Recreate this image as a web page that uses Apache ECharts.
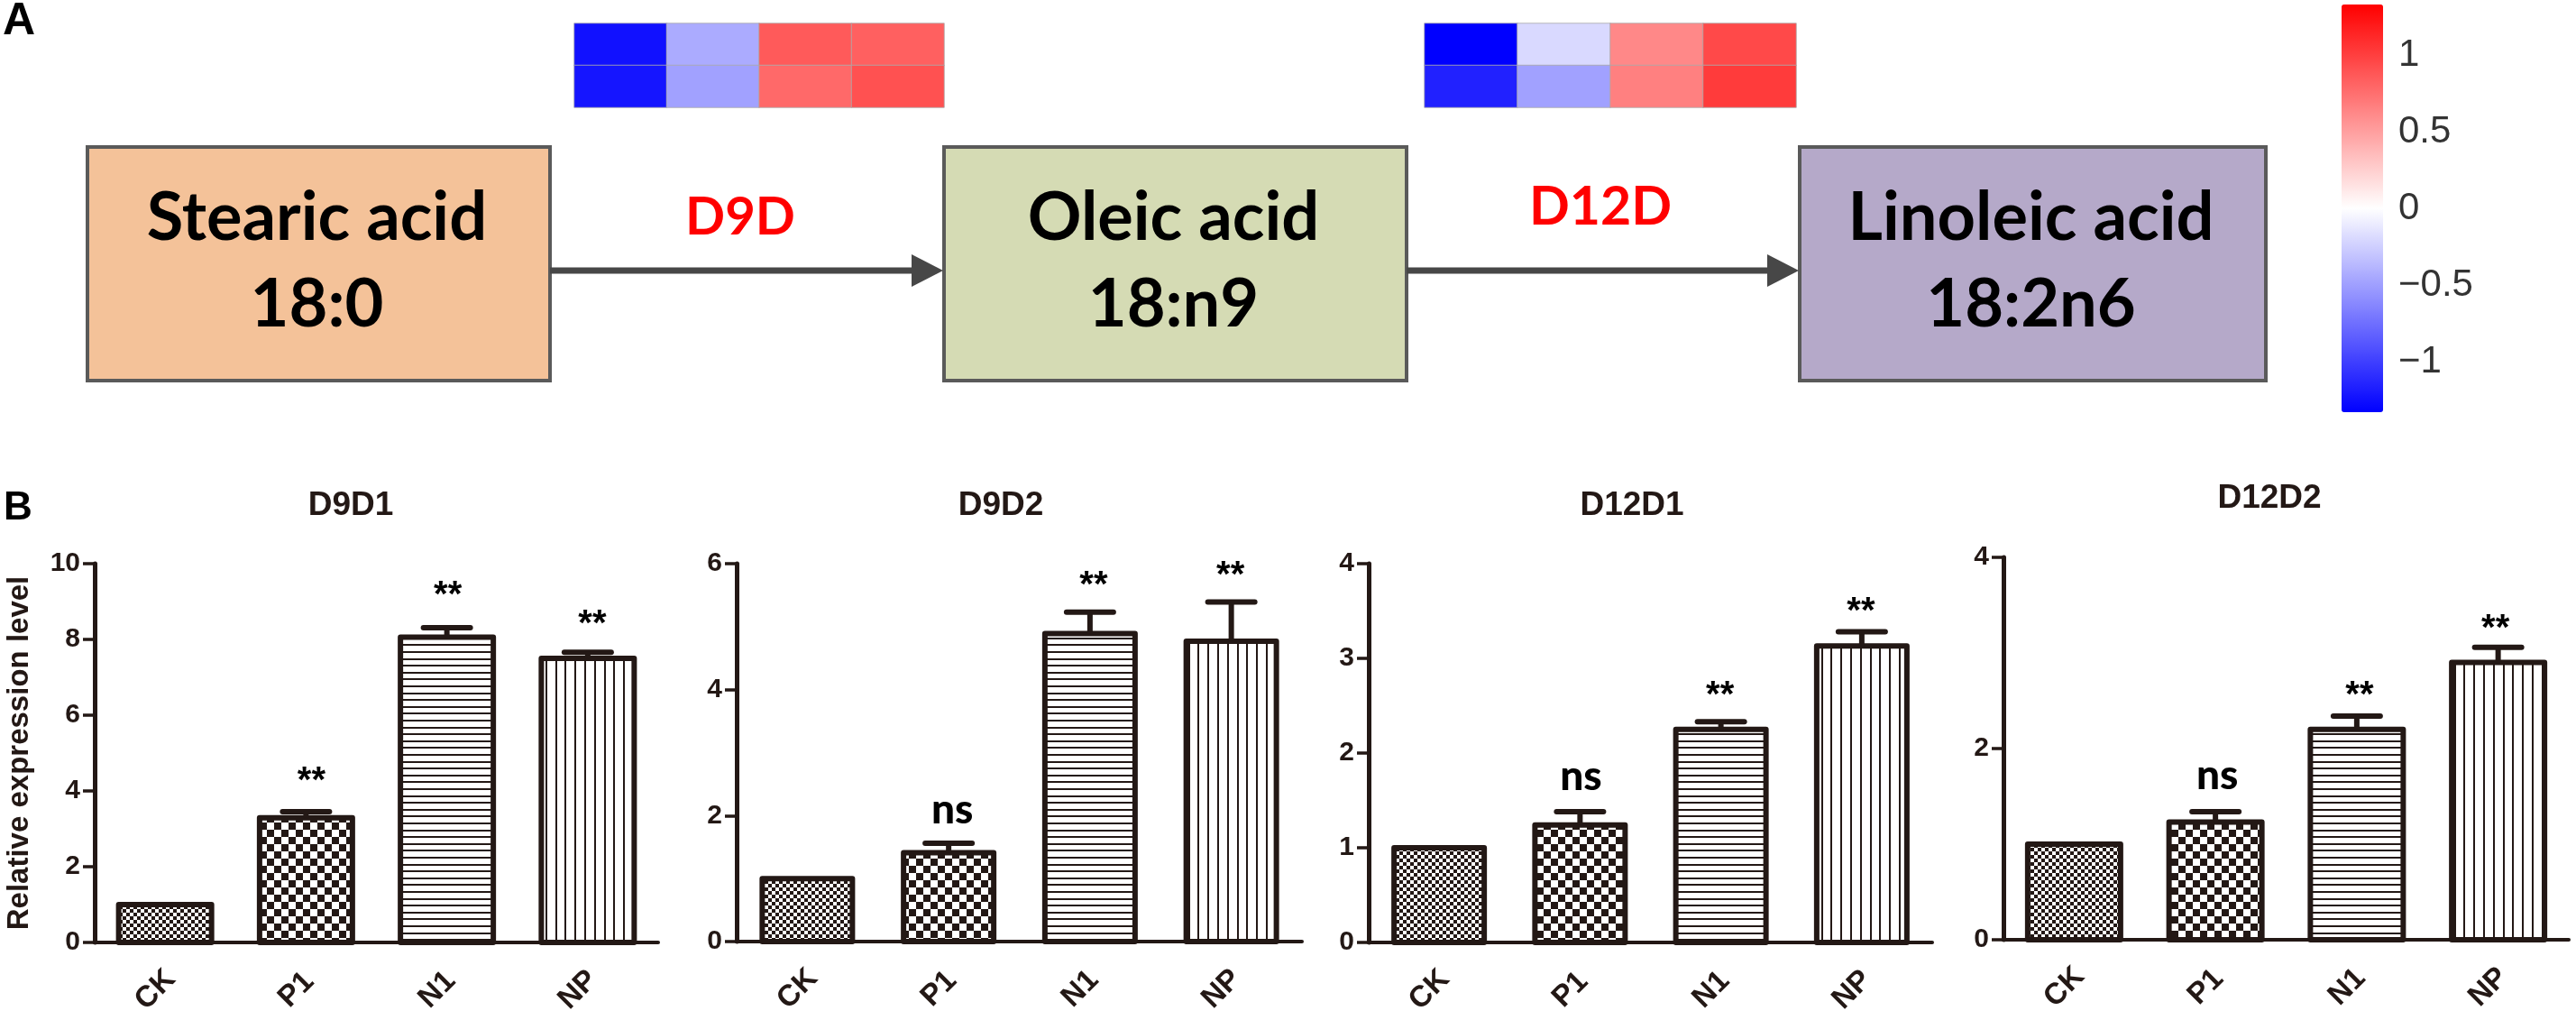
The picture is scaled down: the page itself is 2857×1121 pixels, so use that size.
<!DOCTYPE html>
<html><head><meta charset="utf-8">
<style>html,body{margin:0;padding:0;background:#fff}#c{width:2857px;height:1121px}</style>
<script src="https://cdn.jsdelivr.net/npm/echarts@6/dist/echarts.min.js"></script>
</head><body><div id="c"></div>
<script>
// ---------- data ----------
const categories = ['CK','P1','N1','NP'];
const panelTitles = ['D9D1','D9D2','D12D1','D12D2'];
const d9d1Values = [1, 3.29, 8.06, 7.5];
const d9d1ErrTop = [1, 3.45, 8.31, 7.66];
const d9d1Sig = ['', '**', '**', '**'];
const d9d1SigY = [0, 4.44, 9.34, 8.58];
const d9d2Values = [1, 1.41, 4.89, 4.77];
const d9d2ErrTop = [1, 1.56, 5.23, 5.39];
const d9d2Sig = ['', 'ns', '**', '**'];
const d9d2SigY = [0, 2.09, 5.75, 5.92];
const d12d1Values = [1, 1.24, 2.25, 3.13];
const d12d1ErrTop = [1, 1.38, 2.33, 3.28];
const d12d1Sig = ['', 'ns', '**', '**'];
const d12d1SigY = [0, 1.75, 2.68, 3.56];
const d12d2Values = [1, 1.23, 2.2, 2.9];
const d12d2ErrTop = [1, 1.34, 2.34, 3.06];
const d12d2Sig = ['', 'ns', '**', '**'];
const d12d2SigY = [0, 1.72, 2.62, 3.32];
const yMaxes = [10, 6, 4, 4];
const yIntervals = [2, 2, 1, 2];
const heatRows = ['r1','r2'];
const heatCols = ['c1','c2','c3','c4'];
const d9dHeatRow1 = [-1.24, -0.44, 0.86, 0.83];
const d9dHeatRow2 = [-1.22, -0.49, 0.78, 0.91];
const d12dHeatRow1 = [-1.33, -0.2, 0.62, 0.95];
const d12dHeatRow2 = [-1.16, -0.49, 0.665, 1.02];
const colorMin = -1.33, colorMax = 1.33;
const colorTicks = [-1, -0.5, 0, 0.5, 1];

// ---------- styles ----------
const INK = '#231815';
const SANS = '"Liberation Sans", Arial, sans-serif';
const CAL = 'Lato, "Liberation Sans", sans-serif';

function patternCanvas(w, h, draw) {
  const c = document.createElement('canvas');
  c.width = w; c.height = h;
  const g = c.getContext('2d');
  g.fillStyle = '#fff'; g.fillRect(0, 0, w, h);
  g.fillStyle = INK;
  draw(g);
  return c;
}
const checker = s => patternCanvas(s * 2, s * 2, g => { g.fillRect(0, 0, s, s); g.fillRect(s, s, s, s); });
const patterns = [
  checker(4),
  checker(8),
  patternCanvas(4, 38, g => { for (let i = 0; i < 5; i++) g.fillRect(0, Math.round(i * 7.6), 4, 2); }),
  patternCanvas(54, 4, g => { for (let i = 0; i < 5; i++) g.fillRect(Math.round(i * 10.8), 0, 2, 4); })
].map(c => ({ image: c, repeat: 'repeat' }));

const panels = [
  { v: d9d1Values, e: d9d1ErrTop, s: d9d1Sig, sy: d9d1SigY, left: 105, top: 625, w: 625, h: 420, bar: 103, dx: [0, 6, 1, 5], tx: 389, ty: 561 },
  { v: d9d2Values, e: d9d2ErrTop, s: d9d2Sig, sy: d9d2SigY, left: 817, top: 625, w: 627, h: 419, bar: 100, dx: [0, 4, 4, -1], tx: 1110, ty: 561 },
  { v: d12d1Values, e: d12d1ErrTop, s: d12d1Sig, sy: d12d1SigY, left: 1518, top: 625, w: 625, h: 420, bar: 100, dx: [0, 1, -1, -1], tx: 1810, ty: 561 },
  { v: d12d2Values, e: d12d2ErrTop, s: d12d2Sig, sy: d12d2SigY, left: 2222, top: 618, w: 627, h: 424, bar: 103, dx: [0, 2, 3, -3], tx: 2517, ty: 553 }
];

const grid = [], xAxis = [], yAxis = [], series = [], graphic = [];

panels.forEach((p, i) => {
  grid.push({ left: p.left, top: p.top, width: p.w, height: p.h, outerBoundsMode: 'none' });
  xAxis.push({
    gridIndex: i, type: 'category', data: categories,
    axisLine: { lineStyle: { color: INK, width: 4 } },
    axisTick: { alignWithLabel: true, length: 12, lineStyle: { color: INK, width: 3.5 } },
    axisLabel: { rotate: 45, margin: 42, align: 'center', verticalAlign: 'middle', padding: [0, 30, 0, 0],
      color: INK, fontFamily: SANS, fontWeight: 'bold', fontSize: 33, interval: 0, hideOverlap: false }
  });
  yAxis.push({
    gridIndex: i, type: 'value', min: 0, max: yMaxes[i], interval: yIntervals[i],
    splitLine: { show: false },
    axisLine: { show: true, lineStyle: { color: INK, width: 5 } },
    axisTick: { show: true, length: 13, lineStyle: { color: INK, width: 3.5 } },
    axisLabel: { margin: 16, color: INK, fontFamily: SANS, fontWeight: 'bold', fontSize: 30 },
    name: i === 0 ? 'Relative expression level' : '',
    nameLocation: 'middle', nameGap: 67,
    nameTextStyle: { color: INK, fontFamily: SANS, fontWeight: 'bold', fontSize: 33 }
  });
  // patterned fill: top edge sits exactly on the value
  series.push({
    type: 'bar', xAxisIndex: i, yAxisIndex: i, barWidth: p.bar, silent: true, z: 2,
    data: p.v.map((val, k) => ({ value: val, itemStyle: { color: patterns[k], borderWidth: 0 } }))
  });
  // outline centred on the bar edge, plus the upper error whisker
  series.push({
    type: 'custom', xAxisIndex: i, yAxisIndex: i, silent: true, z: 3,
    encode: { x: 0, y: [1, 2] },
    data: p.v.map((val, k) => [k, val, p.e[k]]),
    renderItem(params, api) {
      const lo = api.coord([api.value(0), api.value(1)]);
      const hi = api.coord([api.value(0), api.value(2)]);
      const base = api.coord([api.value(0), 0]);
      const outline = { type: 'rect',
        shape: { x: lo[0] - p.bar / 2, y: lo[1], width: p.bar, height: base[1] - lo[1] },
        style: { fill: null, stroke: INK, lineWidth: 6, lineJoin: 'round' } };
      if (hi[1] >= lo[1]) return { type: 'group', children: [outline] };
      const st = { stroke: INK, lineWidth: 6, lineCap: 'round', fill: null };
      return { type: 'group', children: [
        outline,
        { type: 'line', shape: { x1: lo[0], y1: lo[1], x2: hi[0], y2: hi[1] }, style: { stroke: INK, lineWidth: 6 } },
        { type: 'line', shape: { x1: hi[0] - 26, y1: hi[1], x2: hi[0] + 26, y2: hi[1] }, style: st }
      ] };
    }
  });
  series.push({
    type: 'scatter', xAxisIndex: i, yAxisIndex: i, symbolSize: 0, silent: true, z: 4,
    itemStyle: { opacity: 1 },
    data: p.s.map((t, k) => ({
      value: [k, p.sy[k]],
      label: {
        show: !!t, position: 'inside', formatter: t, color: '#000', opacity: 1,
        align: 'center', verticalAlign: 'middle',
        fontFamily: t === 'ns' ? CAL : SANS, fontWeight: t === 'ns' ? 900 : 'bold',
        fontSize: t === 'ns' ? 46 : 40,
        offset: [p.dx[k], t === 'ns' ? 0 : 8]
      }
    }))
  });
  graphic.push({ type: 'text', silent: true,
    style: { text: panelTitles[i], x: p.tx, y: p.ty, align: 'center', verticalAlign: 'middle',
      fontFamily: SANS, fontWeight: 'bold', fontSize: 37, fill: INK } });
});

// heatmaps
const heatGrids = [
  { left: 637, top: 26, width: 410, height: 93, rows: [d9dHeatRow1, d9dHeatRow2] },
  { left: 1580, top: 26, width: 412, height: 93, rows: [d12dHeatRow1, d12dHeatRow2] }
];
const heatSeriesIdx = [];
heatGrids.forEach(h => {
  const gi = grid.length;
  grid.push({ left: h.left, top: h.top, width: h.width, height: h.height, outerBoundsMode: 'none' });
  xAxis.push({ gridIndex: gi, type: 'category', data: heatCols, show: false });
  yAxis.push({ gridIndex: gi, type: 'category', data: heatRows, show: false, inverse: true });
  const data = [];
  h.rows.forEach((r, ri) => r.forEach((v, ci) => data.push([ci, ri, v])));
  heatSeriesIdx.push(series.length);
  series.push({ type: 'heatmap', xAxisIndex: gi, yAxisIndex: gi, data, silent: true,
    itemStyle: { borderColor: 'rgba(170,170,170,0.8)', borderWidth: 1 } });
});

// colour bar axis labels
{
  const gi = grid.length;
  grid.push({ left: 2643, top: 5, width: 1, height: 452, outerBoundsMode: 'none' });
  xAxis.push({ gridIndex: gi, type: 'category', data: [], show: false });
  yAxis.push({ gridIndex: gi, type: 'value', position: 'left', min: colorMin, max: colorMax,
    splitLine: { show: false }, axisLine: { show: false }, axisTick: { show: false },
    axisLabel: { inside: true, margin: 17, fontFamily: SANS, fontSize: 42, color: '#333',
      customValues: colorTicks, formatter: v => String(v).replace('-', '\u2212') } });
}

// pathway diagram
const boxes = [
  { x: 97, w: 513, fill: '#f4c299', a: 'Stearic acid', b: '18:0' },
  { x: 1047, w: 513, fill: '#d5dbb4', a: 'Oleic acid', b: '18:n9' },
  { x: 1996, w: 517, fill: '#b5a9c9', a: 'Linoleic acid', b: '18:2n6' }
];
boxes.forEach(b => {
  graphic.push({ type: 'rect', shape: { x: b.x, y: 163, width: b.w, height: 259 }, silent: true,
    style: { fill: b.fill, stroke: '#5a5a5a', lineWidth: 4 } });
  [[b.a, 242], [b.b, 338]].forEach(([t, y]) => graphic.push({ type: 'text', silent: true,
    style: { text: t, x: b.x + b.w / 2 - 2, y, align: 'center', verticalAlign: 'middle',
      fontFamily: CAL, fontWeight: 'bold', fontSize: 74, fill: '#000' } }));
});
[[610, 1047], [1560, 1996]].forEach(([a, b]) => {
  graphic.push({ type: 'line', silent: true, shape: { x1: a, y1: 300, x2: b - 30, y2: 300 },
    style: { stroke: '#474747', lineWidth: 7 } });
  graphic.push({ type: 'polygon', silent: true, shape: { points: [[b - 36, 282], [b - 1, 300], [b - 36, 318]] },
    style: { fill: '#474747' } });
});
[['D9D', 821, 241, 58], ['D12D', 1775, 230, 59]].forEach(([t, x, y, s]) => graphic.push({ type: 'text', silent: true,
  style: { text: t, x, y, align: 'center', verticalAlign: 'middle', fontFamily: CAL, fontWeight: 'bold', fontSize: s, fill: '#ff0000' } }));
[['A', 21, 24, 50], ['B', 20, 564, 44]].forEach(([t, x, y, s]) => graphic.push({ type: 'text', silent: true,
  style: { text: t, x, y, align: 'center', verticalAlign: 'middle', fontFamily: SANS, fontWeight: 'bold', fontSize: s, fill: '#000' } }));

const chart = echarts.init(document.getElementById('c'), null, { renderer: 'canvas', width: 2857, height: 1121 });
chart.setOption({
  animation: false, backgroundColor: '#fff', tooltip: { show: false },
  grid, xAxis, yAxis, series, graphic,
  visualMap: {
    type: 'continuous', min: colorMin, max: colorMax, seriesIndex: heatSeriesIdx,
    left: 2597, top: 5, itemWidth: 46, itemHeight: 452, padding: 0,
    calculable: false, showLabel: false, text: null, orient: 'vertical',
    inRange: { color: ['#0000ff', '#ffffff', '#ff0000'] }
  }
});
</script></body></html>
